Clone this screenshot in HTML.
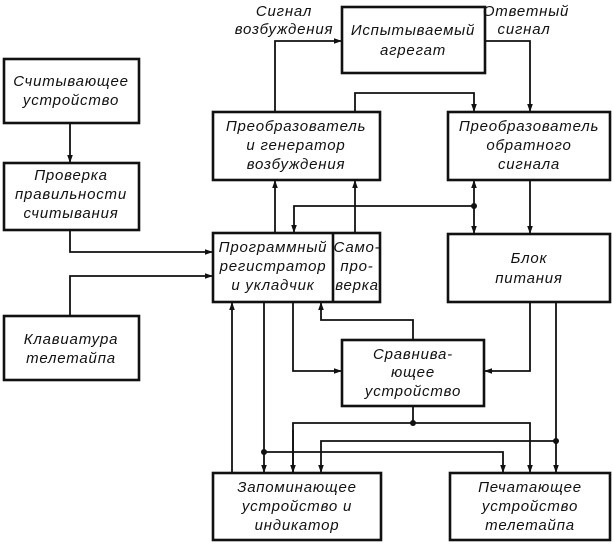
<!DOCTYPE html>
<html><head><meta charset="utf-8"><style>
body{margin:0;background:#fff}
svg text{font-family:"Liberation Sans","DejaVu Sans",sans-serif;font-style:italic;font-size:15px;letter-spacing:0.8px;fill:#111;text-anchor:middle}
</style></head><body>
<svg width="613" height="544" viewBox="0 0 613 544" xmlns="http://www.w3.org/2000/svg">
<defs><marker id="a" viewBox="0 0 10 10" refX="10" refY="5" markerWidth="8" markerHeight="8" orient="auto" markerUnits="userSpaceOnUse"><path d="M0,1.5 L10,5 L0,8.5 Z" fill="#111"/></marker></defs>
<g fill="none" stroke="#111" stroke-width="2.6">
<rect x="342" y="7" width="143" height="66"/>
<rect x="4" y="59" width="135" height="64"/>
<rect x="4" y="163" width="135" height="67"/>
<rect x="4" y="316" width="135" height="64"/>
<rect x="213" y="112" width="167" height="68"/>
<rect x="448" y="112" width="162" height="68"/>
<rect x="213" y="233" width="167" height="69"/>
<line x1="333" y1="233" x2="333" y2="302"/>
<rect x="448" y="234" width="162" height="68"/>
<rect x="342" y="340" width="142" height="66"/>
<rect x="213" y="473" width="168" height="67"/>
<rect x="450" y="473" width="160" height="67"/>
</g>
<g fill="none" stroke="#111" stroke-width="1.8">
<polyline points="275,112 275,41 342,41" marker-end="url(#a)"/>
<polyline points="485,41 530,41 530,112" marker-end="url(#a)"/>
<polyline points="355,112 355,93 474,93 474,112" marker-end="url(#a)"/>
<line x1="70" y1="123" x2="70" y2="163" marker-end="url(#a)"/>
<polyline points="70,230 70,252 213,252" marker-end="url(#a)"/>
<polyline points="70,316 70,276 213,276" marker-end="url(#a)"/>
<line x1="275" y1="233" x2="275" y2="180" marker-end="url(#a)"/>
<line x1="355" y1="233" x2="355" y2="180" marker-end="url(#a)"/>
<polyline points="474,206 294,206 294,233" marker-end="url(#a)"/>
<line x1="474" y1="206" x2="474" y2="180" marker-end="url(#a)"/>
<line x1="474" y1="206" x2="474" y2="234" marker-end="url(#a)"/>
<line x1="530" y1="180" x2="530" y2="234" marker-end="url(#a)"/>
<line x1="232" y1="473" x2="232" y2="302" marker-end="url(#a)"/>
<line x1="264" y1="302" x2="264" y2="473" marker-end="url(#a)"/>
<polyline points="293,302 293,371 342,371" marker-end="url(#a)"/>
<polyline points="413,340 413,320 321,320 321,302" marker-end="url(#a)"/>
<polyline points="530,302 530,371 484,371" marker-end="url(#a)"/>
<line x1="556" y1="302" x2="556" y2="473" marker-end="url(#a)"/>
<line x1="413" y1="406" x2="413" y2="423"/>
<polyline points="293,473 293,423 530,423 530,473" marker-end="url(#a)"/>
<line x1="293" y1="430" x2="293" y2="473" marker-end="url(#a)"/>
<polyline points="556,441 321,441 321,473" marker-end="url(#a)"/>
<polyline points="264,452 503,452 503,473" marker-end="url(#a)"/>
</g>
<g fill="#111"><circle cx="474" cy="206" r="3"/><circle cx="413" cy="423" r="3"/><circle cx="556" cy="441" r="3"/><circle cx="264" cy="452" r="3"/></g>
<text x="284" y="16">Сигнал</text>
<text x="284" y="34">возбуждения</text>
<text x="526" y="16">Ответный</text>
<text x="524" y="34">сигнал</text>
<text x="413" y="35">Испытываемый</text>
<text x="413" y="55">агрегат</text>
<text x="71" y="86">Считывающее</text>
<text x="71" y="105">устройство</text>
<text x="71" y="180">Проверка</text>
<text x="71" y="199">правильности</text>
<text x="71" y="218">считывания</text>
<text x="71" y="344">Клавиатура</text>
<text x="71" y="363">телетайпа</text>
<text x="296" y="131">Преобразователь</text>
<text x="296" y="150">и генератор</text>
<text x="296" y="169">возбуждения</text>
<text x="529" y="131">Преобразователь</text>
<text x="529" y="150">обратного</text>
<text x="529" y="169">сигнала</text>
<text x="273" y="252">Программный</text>
<text x="273" y="271">регистратор</text>
<text x="273" y="290">и укладчик</text>
<text x="357" y="252">Само-</text>
<text x="357" y="271">про-</text>
<text x="357" y="290">верка</text>
<text x="529" y="263">Блок</text>
<text x="529" y="283">питания</text>
<text x="413" y="359">Сравнива-</text>
<text x="413" y="377">ющее</text>
<text x="413" y="396">устройство</text>
<text x="297" y="492">Запоминающее</text>
<text x="297" y="511">устройство и</text>
<text x="297" y="530">индикатор</text>
<text x="530" y="492">Печатающее</text>
<text x="530" y="511">устройство</text>
<text x="530" y="530">телетайпа</text>
</svg>
</body></html>
